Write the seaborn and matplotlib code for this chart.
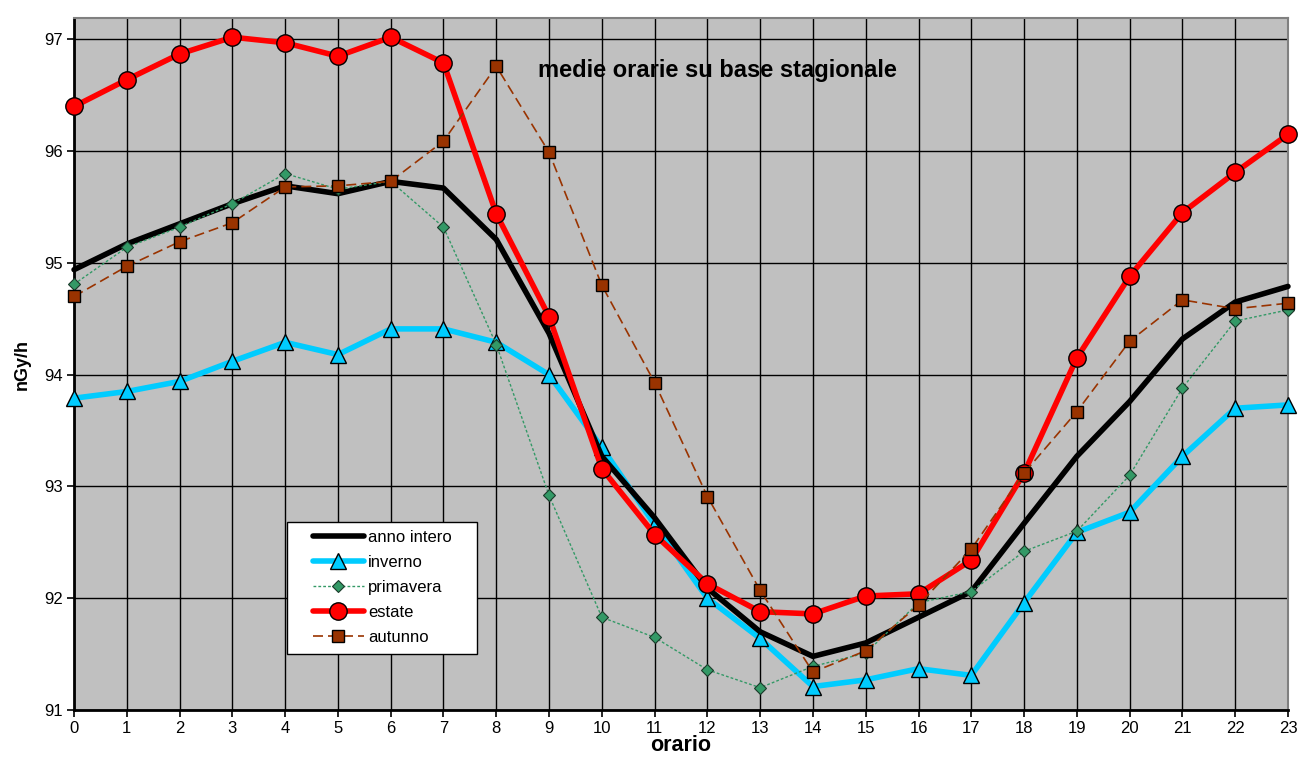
import matplotlib
matplotlib.use("Agg")
import matplotlib.pyplot as plt
import seaborn as sns
import pandas as pd
from matplotlib.lines import Line2D
from matplotlib.legend_handler import HandlerLine2D

sns.set_style("white")
plt.rcParams['font.family'] = ['Liberation Sans', 'DejaVu Sans']
plt.rcParams['text.color'] = 'black'
plt.rcParams['axes.labelcolor'] = 'black'
plt.rcParams['xtick.color'] = 'black'
plt.rcParams['ytick.color'] = 'black'

# medie orarie (nGy/h) per stagione
ore = list(range(24))
anno_intero = [94.94, 95.17, 95.35, 95.53, 95.69, 95.62, 95.73, 95.67, 95.21, 94.37,
               93.27, 92.72, 92.09, 91.70, 91.48, 91.60, 91.83, 92.06, 92.67, 93.27,
               93.76, 94.32, 94.65, 94.79]
inverno = [93.79, 93.85, 93.94, 94.12, 94.29, 94.18, 94.41, 94.41, 94.29, 94.00,
           93.35, 92.66, 92.00, 91.64, 91.21, 91.27, 91.37, 91.31, 91.96, 92.59,
           92.77, 93.27, 93.70, 93.73]
primavera = [94.81, 95.14, 95.32, 95.53, 95.80, 95.66, 95.73, 95.32, 94.27, 92.92,
             91.83, 91.65, 91.36, 91.20, 91.39, 91.51, 91.96, 92.06, 92.42, 92.60,
             93.10, 93.88, 94.48, 94.58]
estate = [96.40, 96.64, 96.87, 97.02, 96.97, 96.85, 97.02, 96.79, 95.44, 94.52,
          93.16, 92.57, 92.13, 91.88, 91.86, 92.02, 92.04, 92.34, 93.12, 94.15,
          94.88, 95.45, 95.81, 96.15]
autunno = [94.70, 94.97, 95.19, 95.36, 95.68, 95.69, 95.73, 96.09, 96.76, 95.99,
           94.80, 93.93, 92.91, 92.07, 91.34, 91.53, 91.94, 92.44, 93.12, 93.67,
           94.30, 94.67, 94.59, 94.64]

df = pd.DataFrame({'orario': ore, 'anno intero': anno_intero, 'inverno': inverno,
                   'primavera': primavera, 'estate': estate, 'autunno': autunno})

fig = plt.figure(figsize=(12.99, 7.58), dpi=100)
ax = fig.add_axes([0.057, 0.0633, 0.9345, 0.9127])
ax.set_facecolor('#c0c0c0')

# stili delle serie
stili = {
    'inverno': dict(color='#00ccff', linewidth=4.0, marker='^', markersize=11,
                    markerfacecolor='#00ccff', markeredgecolor='black', markeredgewidth=1.0, zorder=3),
    'anno intero': dict(color='black', linewidth=4.0, zorder=4),
    'primavera': dict(color='#339966', linewidth=1.0, linestyle=(0, (2, 1.5)), marker='D', markersize=6,
                      markerfacecolor='#339966', markeredgecolor='#1a3a2a', markeredgewidth=0.8, zorder=5),
    'estate': dict(color='#ff0000', linewidth=4.0, marker='o', markersize=12.5,
                   markerfacecolor='#ff0000', markeredgecolor='black', markeredgewidth=1.0, zorder=6),
    'autunno': dict(color='#993300', linewidth=1.2, linestyle=(0, (6, 3)), marker='s', markersize=8,
                    markerfacecolor='#993300', markeredgecolor='black', markeredgewidth=1.0, zorder=7),
}

for nome in ['inverno', 'anno intero', 'primavera', 'estate', 'autunno']:
    sns.lineplot(data=df, x='orario', y=nome, ax=ax, label=nome, clip_on=False, **stili[nome])

ax.set_xlim(0, 23)
ax.set_ylim(91, 97.19)
ax.set_xticks(ore)
ax.set_yticks(range(91, 98))
ax.grid(True, color='black', linewidth=1.0)
ax.set_axisbelow(True)

for s in ['left', 'bottom']:
    ax.spines[s].set_color('black')
    ax.spines[s].set_linewidth(2.0)
for s in ['top', 'right']:
    ax.spines[s].set_color('#808080')
    ax.spines[s].set_linewidth(1.5)

ax.tick_params(axis='both', direction='out', length=5, width=1.2, colors='black',
               labelsize=12, left=True, bottom=True, pad=3)
ax.set_xlabel('orario', fontsize=15.5, fontweight='bold', labelpad=-1)
ax.set_ylabel('nGy/h', fontsize=13, fontweight='bold', labelpad=10)

ax.text(0.53, 0.925, 'medie orarie su base stagionale', transform=ax.transAxes,
        ha='center', va='center', fontsize=17, fontweight='bold', color='black', zorder=10)

# legenda con i simboli rientrati come in Excel
handles, labels = ax.get_legend_handles_labels()
ordine = ['anno intero', 'inverno', 'primavera', 'estate', 'autunno']
hl = dict(zip(labels, handles))
leg = ax.legend([hl[n] for n in ordine], ordine, loc='upper left',
                bbox_to_anchor=(0.1755, 0.272, 0.1565, 0.0), mode='expand',
                borderaxespad=0, frameon=True,
                fancybox=False, edgecolor='black', facecolor='white', framealpha=1,
                fontsize=12, handlelength=4.1, handletextpad=0.25, labelspacing=0.6,
                borderpad=0.5, handler_map={Line2D: HandlerLine2D(xpad=1.05)})
leg.get_frame().set_linewidth(1.0)
leg.set_zorder(20)

fig.savefig('out.png', dpi=100, facecolor='white')
